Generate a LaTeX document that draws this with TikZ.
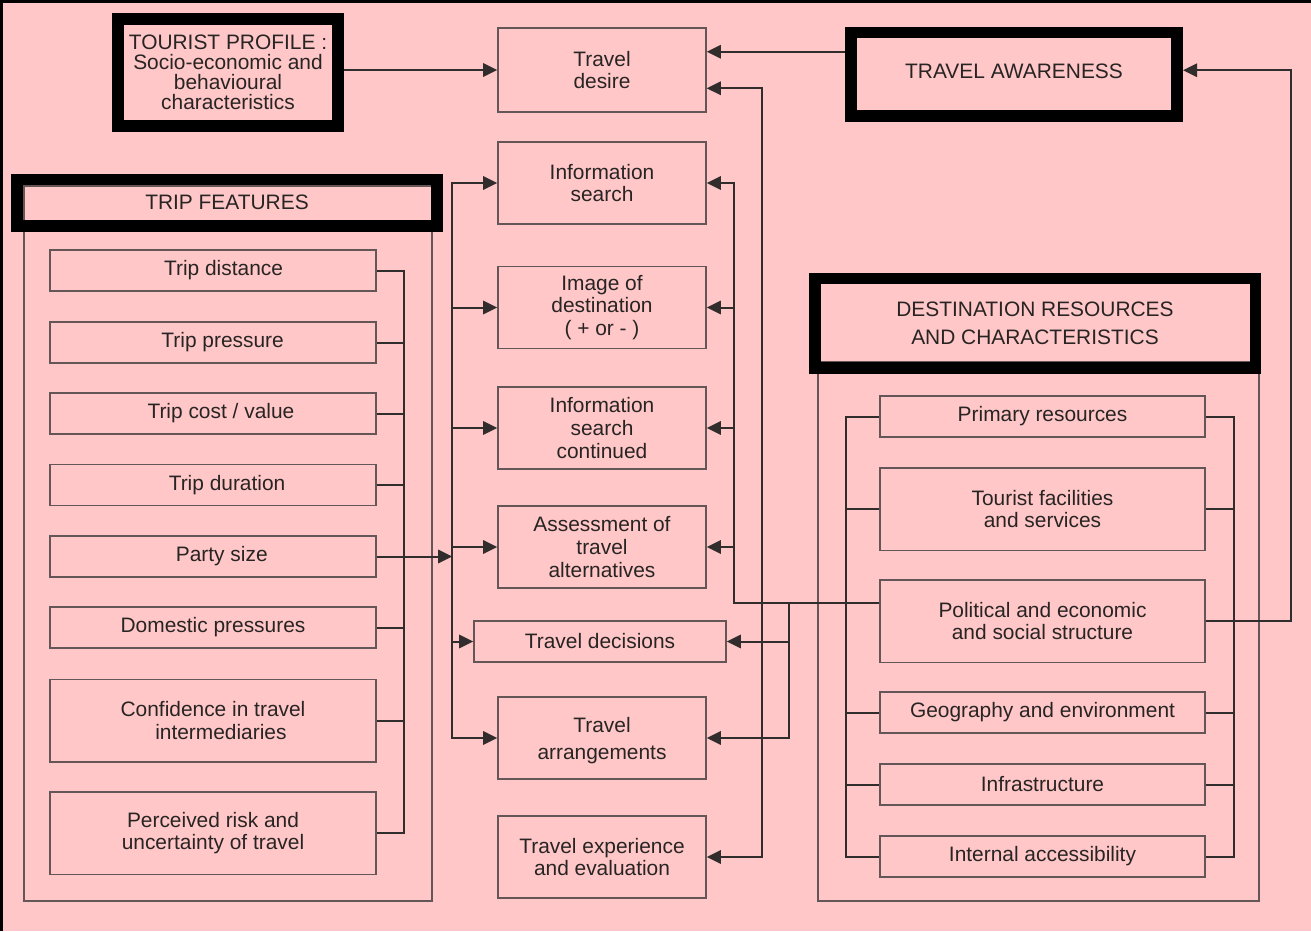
\documentclass[tikz,border=0pt]{standalone}
\usepackage{fontspec}
\setmainfont{Liberation Sans}
\usetikzlibrary{arrows.meta,calc}
\definecolor{bgpink}{RGB}{255,199,199}
\definecolor{ink}{RGB}{40,36,36}
\definecolor{edgegray}{RGB}{100,86,86}
\definecolor{wirecol}{RGB}{50,45,45}
\newcommand{\txt}{\fontsize{11.9}{13}\selectfont}

\tikzset{
  every node/.style={font=\txt, text=ink},
  cbox/.style={draw=edgegray, line width=.85pt, align=center, inner sep=0pt,
               minimum width=4.16cm, minimum height=1.64cm},
  tbox/.style={draw=edgegray, line width=.85pt, align=center, inner sep=0pt,
               minimum width=6.52cm, minimum height=.82cm},
  rbox/.style={draw=edgegray, line width=.85pt, align=center, inner sep=0pt,
               minimum width=6.5cm, minimum height=.82cm},
  tall/.style={minimum height=1.65cm},
  heavyframe/.style={draw=black, line width=6.8pt, align=center, inner sep=0pt},
  shell/.style={draw=edgegray, line width=.85pt, inner sep=0pt},
  wire/.style={draw=wirecol, line width=1.15pt},
  arr/.style={wire, -{Triangle[length=8pt,width=7.6pt]}},
  arrboth/.style={wire, {Triangle[length=8pt,width=7.6pt]}-{Triangle[length=8pt,width=7.6pt]}}
}

\begin{document}
\begin{tikzpicture}[x=0.02cm,y=-0.02cm]
% page and edge strips
\useasboundingbox (0,0) rectangle (1311,931);
\fill[bgpink] (0,0) rectangle (1311,931);
\fill[black] (0,0) rectangle (3,931);
\fill[black] (0,0) rectangle (1311,3);

% group containers
\node[shell, minimum width=8.16cm, minimum height=14.3cm] (tripshell) at (228,543.5) {};
\node[shell, minimum width=8.82cm, minimum height=10.78cm] (destshell) at (1038.5,631.5) {};

% heading frames
\node[heavyframe, minimum width=4.4cm, minimum height=2.14cm,
      font=\fontsize{11.9}{11.3}\selectfont] (profile) at (228,72.5)
  {TOURIST PROFILE :\\Socio-economic and\\behavioural\\characteristics};
\node[heavyframe, minimum width=8.42cm, minimum height=.93cm] (tripfeat) at (227,202.75)
  {TRIP FEATURES};
\node[heavyframe, minimum width=6.52cm, minimum height=1.67cm] (awareness) at (1014,74.25)
  {\raisebox{3.4pt}{TRAVEL AWARENESS}};
\node[heavyframe, minimum width=8.82cm, minimum height=1.79cm,
      font=\fontsize{11.9}{16}\selectfont] (destfeat) at (1035,323.25)
  {DESTINATION RESOURCES\\AND CHARACTERISTICS};

% decision process column
\node[cbox, minimum height=1.68cm] (desire) at (602,70) {Travel\\desire};
\node[cbox] (isearch) at (602,183) {Information\\search};
\node[cbox] (image) at (602,307.5) {Image of\\destination\\( + or - )};
\node[cbox] (iscont) at (602,428) {Information\\search\\continued};
\node[cbox] (assess) at (602,547) {Assessment of\\travel\\alternatives};
\node[cbox, minimum width=5.04cm, minimum height=.82cm] (decis) at (600,641.5) {Travel decisions};
\node[cbox, font=\fontsize{11.9}{15.5}\selectfont] (arrange) at (602,738) {\\[-4pt]Travel\\arrangements};
\node[cbox] (exper) at (602,857) {Travel experience\\and evaluation};

% trip features
\node[tbox] (dist) at (213,270.5) {\hspace*{12pt}Trip distance};
\node[tbox] (press) at (213,342.5) {\hspace*{11pt}Trip pressure};
\node[tbox] (cost) at (213,413.5) {\hspace*{9pt}Trip cost / value};
\node[tbox] (dur) at (213,485) {\hspace*{16pt}Trip duration};
\node[tbox] (party) at (213,556.5) {\hspace*{10pt}Party size};
\node[tbox] (dom) at (213,627.5) {Domestic pressures};
\node[tbox, tall] (conf) at (213,720.5) {Confidence in travel\\\hspace*{9pt}intermediaries};
\node[tbox, tall] (risk) at (213,833) {Perceived risk and\\uncertainty of travel};

% destination resources
\node[rbox] (prim) at (1042.5,416.5) {Primary resources};
\node[rbox, tall] (fac) at (1042.5,509) {Tourist facilities\\and services};
\node[rbox, tall] (pol) at (1042.5,621) {Political and economic\\and social structure};
\node[rbox] (geo) at (1042.5,712.5) {Geography and environment};
\node[rbox] (infra) at (1042.5,784.5) {Infrastructure};
\node[rbox] (access) at (1042.5,856.5) {Internal accessibility};

% profile and awareness into desire
\coordinate (dR1) at ($(desire.north east)!.286!(desire.south east)$);
\coordinate (dR2) at ($(desire.north east)!.714!(desire.south east)$);
\draw[arr] (profile.east |- desire.west) -- (desire.west);
\draw[arr] (awareness.west |- dR1) -- (dR1);

% feedback from destination structure to awareness
\coordinate (awR) at ($(awareness.east)+(0,-4)$);
\draw[arr] (pol.east) -- ++(85,0) |- (awR);

% destination buses
\draw[wire] (prim.east) -- ++(28,0) |- (access.east);
\foreach \n in {fac,geo,infra} \draw[wire] (\n.east) -- ++(28,0);
\draw[wire] (prim.west) -- ++(-33,0) |- (access.west);
\foreach \n in {fac,geo,infra} \draw[wire] (\n.west) -- ++(-33,0);

% destination structure feeding the process column
\coordinate (polL) at ($(pol.north west)!.28!(pol.south west)$);
\coordinate (busB) at ($(isearch.east)+(27,0)$);
\draw[arr] (polL) -| (busB) -- (isearch.east);
\foreach \n in {image,iscont,assess} \draw[arr] (busB |- \n.east) -- (\n.east);

\coordinate (busC) at ($(dR2)+(55,0)$);
\draw[arrboth] (dR2) -- (busC) |- (exper.east);

\coordinate (busD) at ($(polL)+(-90,0)$);
\draw[arr] (busD) |- (decis.east);
\draw[arr] (busD) |- (arrange.east);

% trip features bus
\draw[wire] (dist.east) -- ++(27,0) |- (risk.east);
\foreach \n in {press,cost,dur,dom,conf} \draw[wire] (\n.east) -- ++(27,0);
\coordinate (busA) at ($(isearch.west)+(-45,0)$);
\draw[arr] (party.east) -- (busA |- party.east);
\draw[arrboth] (isearch.west) -- (busA) |- (arrange.west);
\foreach \n in {image,iscont,assess,decis} \draw[arr] (busA |- \n.west) -- (\n.west);
\end{tikzpicture}
\end{document}
